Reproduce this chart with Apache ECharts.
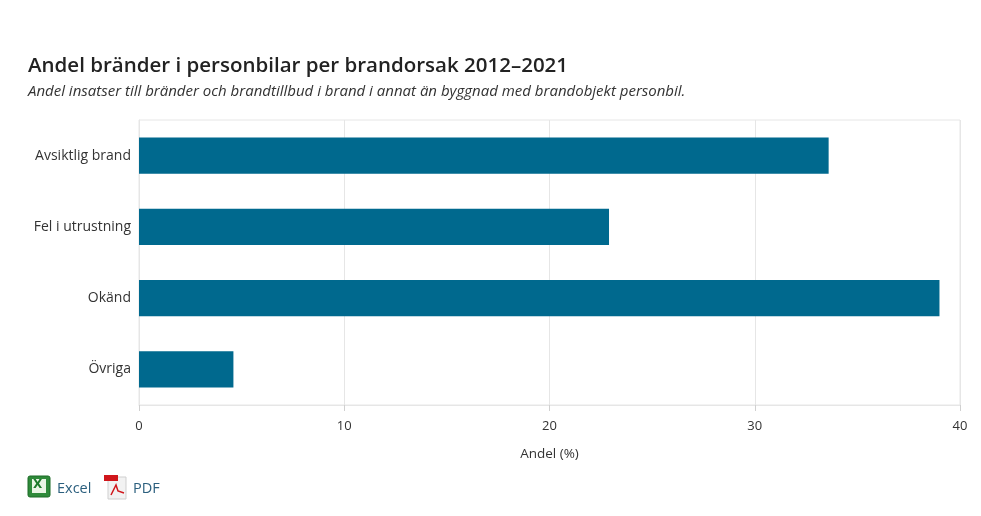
<!DOCTYPE html>
<html>
<head>
<meta charset="utf-8">
<script src="https://cdn.jsdelivr.net/npm/echarts@6/dist/echarts.min.js"></script>
<style>
html,body{margin:0;padding:0;background:#fff;}
#c{width:981px;height:516px;}
</style>
</head>
<body>
<div id="c"></div>
<script>
const categories = ["Avsiktlig brand", "Fel i utrustning", "Okänd", "Övriga"];
const values = [33.6, 22.9, 39.0, 4.6];
const xTicks = [0, 10, 20, 30, 40];
const titleText = "Andel bränder i personbilar per brandorsak 2012–2021";
const subtitleText = "Andel insatser till bränder och brandtillbud i brand i annat än byggnad med brandobjekt personbil.";
const xAxisName = "Andel (%)";

const chart = echarts.init(document.getElementById('c'));
chart.setOption({
  animation: false,
  title: {
    text: titleText,
    subtext: subtitleText,
    left: 23,
    top: 51,
    itemGap: 7,
    textStyle: {fontFamily: 'Open Sans', fontWeight: 600, fontSize: 20.5, color: '#222'},
    subtextStyle: {fontFamily: 'Open Sans', fontStyle: 'italic', fontSize: 15, color: '#333'}
  },
  grid: {left: 139, right: 21, top: 120, bottom: 111, show: true, borderColor: '#e6e6e6', borderWidth: 1},
  xAxis: {
    type: 'value', min: xTicks[0], max: xTicks[xTicks.length - 1], interval: 10,
    name: xAxisName, nameLocation: 'middle', nameGap: 42,
    nameTextStyle: {fontFamily: 'Open Sans', fontSize: 13.5, color: '#333'},
    axisLine: {show: true, lineStyle: {color: '#e6e6e6'}},
    axisTick: {show: true, length: 6, lineStyle: {color: '#d0d0d0'}},
    axisLabel: {fontFamily: 'Open Sans', fontSize: 13, color: '#333', margin: 15},
    splitLine: {show: true, lineStyle: {color: '#e6e6e6'}}
  },
  yAxis: {
    type: 'category', data: categories, inverse: true,
    axisLine: {show: true, lineStyle: {color: '#e6e6e6'}},
    axisTick: {show: false},
    axisLabel: {fontFamily: 'Open Sans', fontSize: 14, color: '#333', margin: 8}
  },
  series: [{
    type: 'bar', data: values, barWidth: '51%',
    itemStyle: {color: '#00698e'}
  }],
  graphic: [
    {type: 'rect', shape: {x: 28, y: 476, width: 22, height: 21, r: 2}, style: {fill: '#2f8a3a', stroke: '#1d6b27', lineWidth: 1}},
    {type: 'rect', shape: {x: 32, y: 479, width: 14, height: 14}, style: {fill: '#e9f5e4'}},
    {type: 'text', x: 33, y: 479, style: {text: 'X', fill: '#1d7a2a', fontFamily: 'DejaVu Sans', fontWeight: 'bold', fontSize: 12}},
    {type: 'text', x: 57, y: 481, style: {text: 'Excel', fill: '#2b5f7e', fontFamily: 'Open Sans', fontSize: 14.5}},
    {type: 'rect', shape: {x: 108, y: 477, width: 18, height: 22}, style: {fill: '#f2f2f2', stroke: '#cfcfcf', lineWidth: 1}},
    {type: 'rect', shape: {x: 104, y: 475, width: 14, height: 6}, style: {fill: '#d0161b'}},
    {type: 'polyline', shape: {points: [[111, 495], [116, 485], [118, 491], [124, 493]]}, style: {stroke: '#d0161b', lineWidth: 1.5, fill: null}},
    {type: 'text', x: 133, y: 481, style: {text: 'PDF', fill: '#2b5f7e', fontFamily: 'Open Sans', fontSize: 14.5}}
  ]
});
</script>
</body>
</html>
